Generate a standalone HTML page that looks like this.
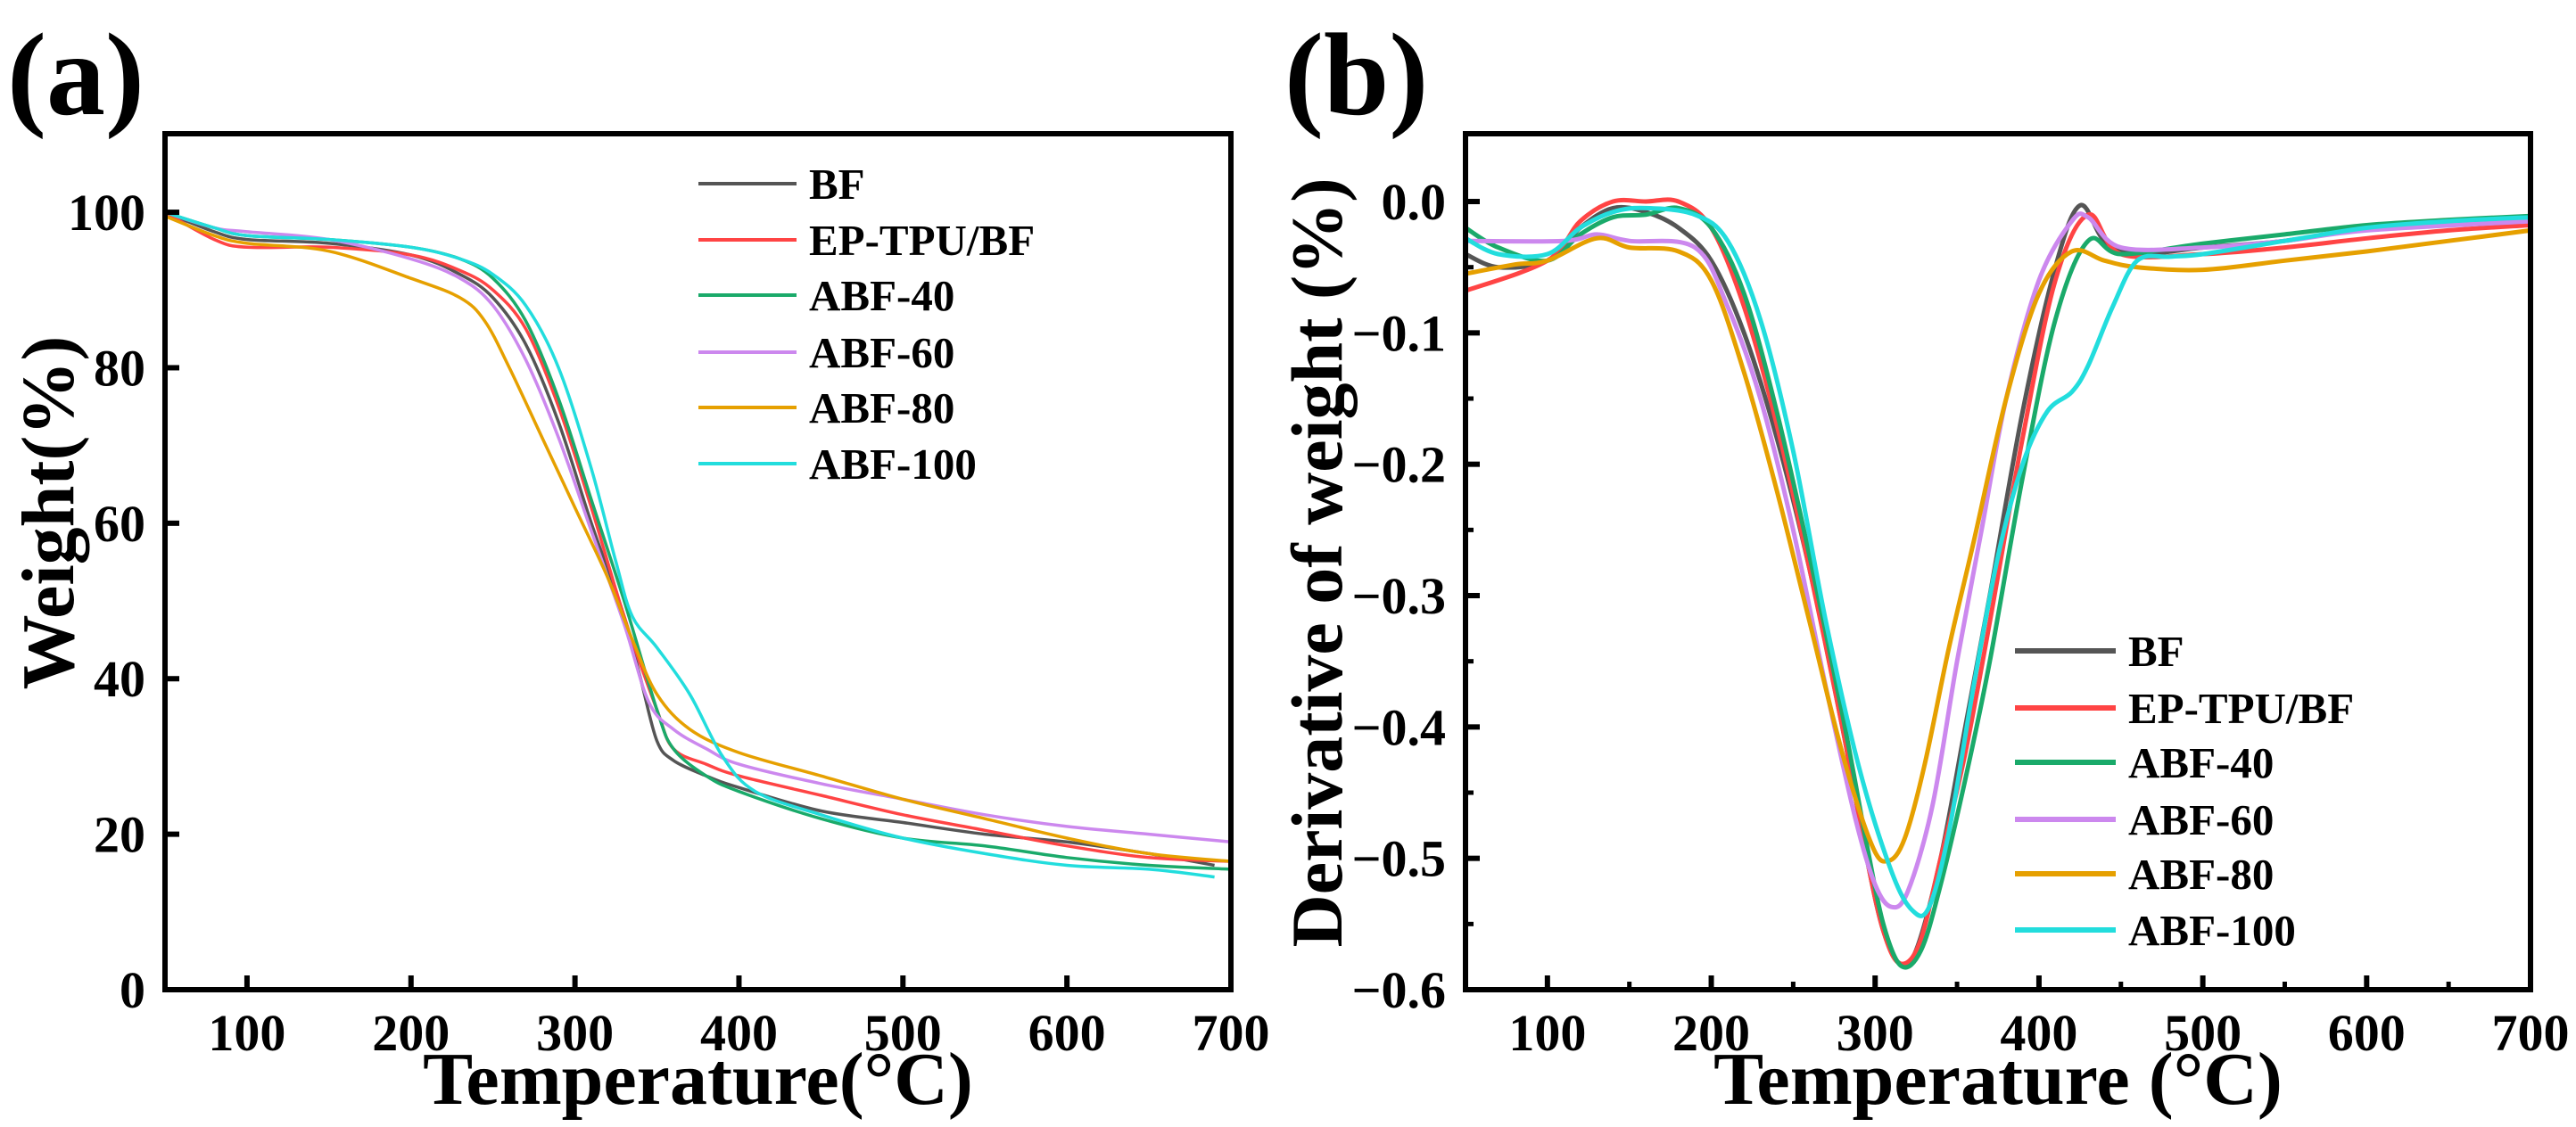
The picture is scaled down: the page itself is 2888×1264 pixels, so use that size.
<!DOCTYPE html>
<html><head><meta charset="utf-8"><style>
html,body{margin:0;padding:0;background:#fff;}
svg{display:block;font-family:"Liberation Serif",serif;font-weight:bold;}
</style></head><body>
<svg id="fig" width="2888" height="1264" viewBox="0 0 2888 1264" xmlns="http://www.w3.org/2000/svg"></svg>
<script>
const seriesNames = ["BF","EP-TPU/BF","ABF-40","ABF-60","ABF-80","ABF-100"];
const seriesColors = ["#555555","#ff4444","#1aaa6a","#cc88ee","#e6a000","#22dddd"];
const xTicks = [100,200,300,400,500,600,700];
const yTicksA = [0,20,40,60,80,100];
const yTicksB = [0.0,-0.1,-0.2,-0.3,-0.4,-0.5,-0.6];
const yTickLabelsB = ["0.0","\u22120.1","\u22120.2","\u22120.3","\u22120.4","\u22120.5","\u22120.6"];

// Panel (a) TGA: [temperature, weight%]
const tgaBF = [[50,100],[80,97.5],[100,96.5],[150,96],[200,94.5],[230,92],[250,89],[270,83],[290,73],[310,60],[330,48],[340,40],[350,32],[360,29.5],[380,27.5],[400,26],[450,23],[500,21.5],[550,20],[600,19],[650,17.5],[690,16]];
const tgaEP = [[50,100],[80,96.5],[100,95.5],[150,95.5],[200,94.5],[230,92.5],[250,90],[270,85],[290,75],[310,62],[330,48],[350,36],[360,31],[380,29],[400,27.5],[450,25],[500,22.5],[550,20.5],[600,18.5],[650,17],[700,16.5]];
const tga40 = [[50,100],[80,98],[100,97],[150,96.5],[200,95.5],[230,94],[250,91.5],[270,86],[290,76],[310,63],[330,50],[350,36],[360,31],[380,27.5],[400,25.5],[450,22],[500,19.5],[550,18.5],[600,17],[650,16],[700,15.5]];
const tga60 = [[50,100],[80,98],[100,97.5],[150,96.5],[200,94],[230,91.5],[250,88],[270,81],[290,71],[310,59],[330,47],[345,37],[360,33.5],[380,31],[400,29],[450,26.5],[500,24.5],[550,22.5],[600,21],[650,20],[700,19]];
const tga80 = [[50,99.5],[80,97],[100,96],[150,95],[200,91.5],[230,89],[245,86],[260,80],[280,71],[300,62],[320,53],[335,45],[350,38],[370,33.5],[400,30.5],[450,27.5],[500,24.5],[550,22],[600,19.5],[650,17.5],[700,16.5]];
const tga100 = [[50,100],[80,98],[100,97],[150,96.5],[200,95.5],[230,94],[250,92],[270,88],[290,80],[310,67],[325,55],[335,48],[350,44],[370,38],[390,30],[410,25.5],[450,22.5],[500,19.5],[550,17.5],[600,16],[650,15.5],[690,14.5]];

// Panel (b) DTG: [temperature, derivative]
const dtgBF = [[50,-0.04],[70,-0.05],[100,-0.045],[120,-0.02],[140,-0.005],[160,-0.008],[180,-0.02],[200,-0.045],[220,-0.1],[240,-0.18],[260,-0.28],[280,-0.4],[295,-0.5],[305,-0.555],[315,-0.58],[325,-0.57],[340,-0.5],[355,-0.4],[370,-0.3],[390,-0.16],[410,-0.05],[425,-0.003],[440,-0.03],[460,-0.04],[500,-0.035],[550,-0.03],[600,-0.02],[650,-0.015],[700,-0.012]];
const dtgEP = [[50,-0.068],[100,-0.045],[120,-0.015],[140,0],[160,0],[180,0],[200,-0.02],[220,-0.08],[240,-0.17],[260,-0.28],[280,-0.4],[295,-0.5],[305,-0.555],[315,-0.58],[327,-0.565],[340,-0.5],[355,-0.42],[370,-0.32],[390,-0.18],[410,-0.06],[430,-0.01],[450,-0.04],[500,-0.04],[550,-0.035],[600,-0.028],[650,-0.022],[700,-0.018]];
const dtg40 = [[50,-0.02],[70,-0.035],[100,-0.045],[120,-0.025],[140,-0.012],[160,-0.01],[180,-0.005],[200,-0.02],[220,-0.07],[240,-0.16],[260,-0.27],[280,-0.39],[295,-0.49],[305,-0.55],[316,-0.582],[328,-0.57],[340,-0.52],[355,-0.44],[370,-0.35],[390,-0.21],[410,-0.09],[430,-0.03],[450,-0.04],[500,-0.032],[550,-0.025],[600,-0.018],[650,-0.014],[700,-0.011]];
const dtg60 = [[50,-0.03],[110,-0.03],[130,-0.025],[150,-0.03],[190,-0.035],[210,-0.08],[230,-0.15],[250,-0.25],[270,-0.37],[288,-0.47],[300,-0.52],[310,-0.537],[320,-0.525],[335,-0.46],[350,-0.35],[365,-0.25],[380,-0.15],[400,-0.06],[420,-0.015],[430,-0.012],[450,-0.035],[500,-0.035],[550,-0.03],[600,-0.022],[700,-0.015]];
const dtg80 = [[50,-0.055],[80,-0.048],[100,-0.045],[130,-0.028],[150,-0.035],[180,-0.038],[200,-0.06],[220,-0.13],[240,-0.22],[260,-0.32],[280,-0.42],[298,-0.49],[308,-0.502],[318,-0.485],[330,-0.43],[345,-0.34],[360,-0.26],[380,-0.15],[400,-0.07],[420,-0.038],[440,-0.045],[460,-0.05],[500,-0.052],[550,-0.045],[600,-0.038],[650,-0.03],[700,-0.022]];
const dtg100 = [[50,-0.028],[70,-0.04],[100,-0.04],[120,-0.02],[140,-0.008],[160,-0.005],[190,-0.01],[210,-0.03],[230,-0.09],[250,-0.19],[270,-0.32],[290,-0.43],[310,-0.51],[323,-0.54],[333,-0.537],[345,-0.48],[360,-0.37],[375,-0.27],[390,-0.2],[405,-0.16],[420,-0.145],[430,-0.125],[445,-0.08],[460,-0.045],[480,-0.042],[500,-0.04],[550,-0.03],[600,-0.02],[650,-0.015],[700,-0.012]];

const NS = "http://www.w3.org/2000/svg";
const svg = document.getElementById('fig');
function mk(tag, attrs, parent){ const e=document.createElementNS(NS,tag); for(const k in attrs) e.setAttribute(k,attrs[k]); (parent||svg).appendChild(e); return e; }
function smoothPath(pts){
  let d = 'M'+pts[0][0].toFixed(1)+','+pts[0][1].toFixed(1);
  for(let i=0;i<pts.length-1;i++){
    const p0=pts[Math.max(i-1,0)], p1=pts[i], p2=pts[i+1], p3=pts[Math.min(i+2,pts.length-1)];
    const c1x=p1[0]+(p2[0]-p0[0])/6, c1y=p1[1]+(p2[1]-p0[1])/6;
    const c2x=p2[0]-(p3[0]-p1[0])/6, c2y=p2[1]-(p3[1]-p1[1])/6;
    d += ' C'+c1x.toFixed(1)+','+c1y.toFixed(1)+' '+c2x.toFixed(1)+','+c2y.toFixed(1)+' '+p2[0].toFixed(1)+','+p2[1].toFixed(1);
  }
  return d;
}

function panel(cfg){
  const g = mk('g',{});
  
  
  const sx = v => cfg.L + (v-50)/(700-50)*(cfg.R-cfg.L);
  const sy = v => cfg.B - (v-cfg.ymin)/(cfg.ymax-cfg.ymin)*(cfg.B-cfg.T);
  cfg.data.forEach((d,i)=>{
    const p = mk('path',{d:smoothPath(d.map(q=>[sx(q[0]),sy(q[1])])),fill:'none',stroke:seriesColors[i],'stroke-width':cfg.lw,'stroke-linejoin':'round'},g);
    
    
  });
  const fr = mk('rect',{x:cfg.L,y:cfg.T,width:cfg.R-cfg.L,height:cfg.B-cfg.T,fill:'none',stroke:'#000','stroke-width':6},g);
  
  
  xTicks.forEach(v=>{
    mk('line',{x1:sx(v),x2:sx(v),y1:cfg.B,y2:cfg.B-16,stroke:'#000','stroke-width':6},g);
    const t = mk('text',{x:sx(v),y:cfg.B+68,'text-anchor':'middle','font-size':58},g);
    t.textContent = v;
    
    
    if(cfg.minor && v<700){ mk('line',{x1:sx(v+50),x2:sx(v+50),y1:cfg.B,y2:cfg.B-9,stroke:'#000','stroke-width':5},g); }
  });
  cfg.yTicks.forEach((v,i)=>{
    mk('line',{x1:cfg.L,x2:cfg.L+16,y1:sy(v),y2:sy(v),stroke:'#000','stroke-width':6},g);
    const t = mk('text',{x:cfg.L-22,y:sy(v)+20,'text-anchor':'end','font-size':58},g);
    t.textContent = cfg.yLabels[i];
    
    
    if(cfg.minor && i<cfg.yTicks.length-1){ const m=(v+cfg.yTicks[i+1])/2; mk('line',{x1:cfg.L,x2:cfg.L+9,y1:sy(m),y2:sy(m),stroke:'#000','stroke-width':5},g); }
  });
  const xt = mk('text',{x:(cfg.L+cfg.R)/2,y:1238,'text-anchor':'middle','font-size':84},g);
  xt.textContent = cfg.xTitle;
  
  
  const yt = mk('text',{x:0,y:0,'text-anchor':'middle','font-size':cfg.ytSize,transform:'translate('+cfg.ytX+','+cfg.ytY+') rotate(-90)'},g);
  yt.textContent = cfg.yTitle;
  
  
  const pl = mk('text',{x:cfg.plX,y:128,'font-size':132},g);
  pl.textContent = cfg.label;
  
  
  seriesNames.forEach((n,i)=>{
    const y = cfg.legY[i];
    const ln = mk('line',{x1:cfg.legX1,x2:cfg.legX2,y1:y,y2:y,stroke:seriesColors[i],'stroke-width':cfg.legLw},g);
    
    
    const t = mk('text',{x:cfg.legX2+14,y:y+17,'font-size':49},g);
    t.textContent = n;
    
    
  });
}

panel({id:'tga',L:185,R:1380,T:150,B:1110,ymin:0,ymax:110.1,yTicks:yTicksA,yLabels:yTicksA.map(String),
  data:[tgaBF,tgaEP,tga40,tga60,tga80,tga100],lw:3.5,minor:false,
  xTitle:'Temperature(°C)',yTitle:'Weight(%)',ytX:82,ytY:575,ytSize:84,label:'(a)',plX:8,
  legX1:783,legX2:893,legY:[206,269,331,395,457,520],legLw:4});
panel({id:'dtg',L:1643,R:2837,T:150,B:1110,ymin:-0.6,ymax:0.0516,yTicks:yTicksB,yLabels:yTickLabelsB,
  data:[dtgBF,dtgEP,dtg40,dtg60,dtg80,dtg100],lw:5,minor:true,
  xTitle:'Temperature (°C)',yTitle:'Derivative of weight (%)',ytX:1504,ytY:631,ytSize:82,label:'(b)',plX:1440,
  legX1:2259,legX2:2372,legY:[730,794,855,919,980,1043],legLw:6});
</script>
</body></html>
